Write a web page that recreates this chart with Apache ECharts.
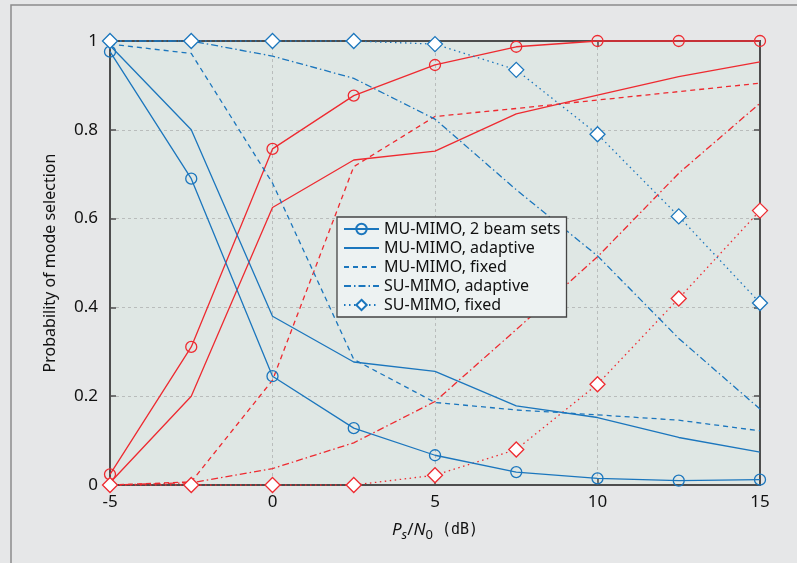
<!DOCTYPE html>
<html>
<head>
<meta charset="utf-8">
<script src="https://cdn.jsdelivr.net/npm/echarts@6/dist/echarts.min.js"></script>
<style>
  html, body { margin: 0; padding: 0; background: #e6e7e8; }
  #chart { width: 797px; height: 563px; }
</style>
</head>
<body>
<div id="chart"></div>
<script>
// x axis: Ps/N0 in dB
const snr = [-5, -2.5, 0, 2.5, 5, 7.5, 10, 12.5, 15]

// blue curves (falling)
const muBeamBlue = [0.976, 0.69, 0.245, 0.128, 0.067, 0.029, 0.015, 0.01, 0.012]
const muAdaptBlue = [0.99, 0.80, 0.38, 0.277, 0.256, 0.178, 0.152, 0.107, 0.074]
const muFixedBlue = [0.993, 0.972, 0.68, 0.283, 0.186, 0.169, 0.158, 0.146, 0.122]
const suAdaptBlue = [1.0, 1.0, 0.966, 0.916, 0.824, 0.665, 0.516, 0.33, 0.171]
const suFixedBlue = [1.0, 1.0, 1.0, 1.0, 0.993, 0.935, 0.79, 0.605, 0.41]

// red curves (rising)
const muBeamRed = [0.024, 0.311, 0.757, 0.877, 0.946, 0.987, 1.0, 1.0, 1.0]
const muAdaptRed = [0.005, 0.2, 0.625, 0.732, 0.752, 0.836, 0.878, 0.92, 0.953]
const muFixedRed = [0.0, 0.007, 0.236, 0.717, 0.83, 0.848, 0.867, 0.886, 0.905]
const suAdaptRed = [0.0, 0.005, 0.037, 0.095, 0.188, 0.35, 0.514, 0.702, 0.86]
const suFixedRed = [0.0, 0.0, 0.0, 0.0, 0.022, 0.08, 0.227, 0.42, 0.618]

const legendNames = ['MU-MIMO, 2 beam sets', 'MU-MIMO, adaptive', 'MU-MIMO, fixed', 'SU-MIMO, adaptive', 'SU-MIMO, fixed']
const legendHasMarker = [true, false, false, false, true]

const BLUE = '#1b76bd'
const RED = '#ee2a30'
const FONT = 'Noto Sans'
const AXIS_COLOR = '#4d4d4d'

const pairs = (ys) => snr.map((x, i) => [x, ys[i]])

// 线型
const DASH = [5, 4]
const DASHDOT = [7, 3, 1.5, 3]
const DOT = [1.5, 3.5]

function makeSeries(name, ys, color, dash, marker, z) {
  const s = {
    name: name,
    type: 'line',
    data: pairs(ys),
    clip: false,
    z: z,
    color: color,
    lineStyle: { color: color, width: 1.3, type: dash },
    symbol: 'none',
    animation: false
  }
  if (marker === 'circle') {
    s.symbol = 'circle'
    s.symbolSize = 11
    s.itemStyle = { color: 'rgba(0,0,0,0)', borderColor: color, borderWidth: 1.3 }
  } else if (marker === 'diamond') {
    s.symbol = 'diamond'
    s.symbolSize = 15
    s.itemStyle = { color: '#ffffff', borderColor: color, borderWidth: 1.3 }
  }
  return s
}

// axis helper (ticks inside)
function frameAxis(extra) {
  return Object.assign({
    type: 'value',
    axisLine: { show: false, onZero: false },
    axisTick: { inside: true, length: 6, lineStyle: { color: AXIS_COLOR, width: 1.5 } },
    axisLabel: { show: false },
    splitLine: { show: false }
  }, extra)
}

const gridLine = { show: true, showMinLine: false, showMaxLine: false, lineStyle: { color: '#b9bdbc', type: [3, 3], width: 1 } }

const chart = echarts.init(document.getElementById('chart'))

const option = {
  backgroundColor: '#e6e7e8',
  animation: false,
  graphic: [
    { id: 'outer', type: 'rect', shape: { x: 11, y: 5, width: 900, height: 700 }, style: { fill: 'none', stroke: '#8c8c8c', lineWidth: 1.5 }, z: -10 }
  ],
  grid: {
    left: 110, right: 37, top: 41, bottom: 78,
    show: true, backgroundColor: '#dfe7e4', borderWidth: 0
  },
  legend: {
    data: legendNames.map((n, i) => legendHasMarker[i] ? { name: n } : { name: n, itemStyle: { opacity: 0 } }),
    orient: 'vertical',
    left: 337, top: 217,
    z: 30,
    padding: [4, 6, 4, 6],
    itemWidth: 35, itemHeight: 13, itemGap: 3,
    backgroundColor: '#edf2f2',
    borderColor: '#444', borderWidth: 1.3,
    textStyle: { fontFamily: FONT, fontSize: 16, color: '#111' },
    selectedMode: false
  },
  xAxis: [
    frameAxis({
      min: -5, max: 15, interval: 5,
      name: '{it|P}{sbi|s}{n|/}{it|N}{sb|0}{mono| (dB)}',
      nameLocation: 'middle', nameGap: 33,
      nameTextStyle: {
        fontFamily: FONT, fontSize: 17, color: '#111',
        rich: {
          it: { fontFamily: FONT, fontStyle: 'italic', fontSize: 17, lineHeight: 24, color: '#111' },
          n: { fontFamily: FONT, fontSize: 17, lineHeight: 24, color: '#111' },
          sbi: { fontFamily: FONT, fontStyle: 'italic', fontSize: 13, lineHeight: 14, verticalAlign: 'bottom', color: '#111' },
          sb: { fontFamily: FONT, fontSize: 13, lineHeight: 14, verticalAlign: 'bottom', color: '#111' },
          mono: { fontFamily: 'DejaVu Sans Mono', fontSize: 15, lineHeight: 24, color: '#111' }
        }
      },
      axisLabel: { show: true, fontFamily: FONT, fontSize: 17, color: '#111', margin: 9 },
      splitLine: gridLine
    }),
    frameAxis({ min: -5, max: 15, interval: 5, position: 'top' })
  ],
  yAxis: [
    frameAxis({
      min: 0, max: 1, interval: 0.2,
      name: 'Probability of mode selection',
      nameLocation: 'middle', nameGap: 52,
      nameTextStyle: { fontFamily: FONT, fontSize: 16, color: '#111' },
      axisLabel: { show: true, fontFamily: FONT, fontSize: 17, color: '#111', margin: 12 },
      splitLine: gridLine
    }),
    frameAxis({ min: 0, max: 1, interval: 0.2, position: 'right' })
  ],
  series: [
    makeSeries(legendNames[0], muBeamBlue, BLUE, 'solid', 'circle', 21),
    makeSeries(legendNames[1], muAdaptBlue, BLUE, 'solid', null, 21),
    makeSeries(legendNames[2], muFixedBlue, BLUE, DASH, null, 21),
    makeSeries(legendNames[3], suAdaptBlue, BLUE, DASHDOT, null, 21),
    makeSeries(legendNames[4], suFixedBlue, BLUE, DOT, 'diamond', 21),
    makeSeries(legendNames[0], muBeamRed, RED, 'solid', 'circle', 20),
    makeSeries(legendNames[1], muAdaptRed, RED, 'solid', null, 20),
    makeSeries(legendNames[2], muFixedRed, RED, DASH, null, 20),
    makeSeries(legendNames[3], suAdaptRed, RED, DASHDOT, null, 20),
    makeSeries(legendNames[4], suFixedRed, RED, DOT, 'diamond', 20)
  ]
}

chart.setOption(option)

// 画坐标框 (plot frame) from the axis scales, above the grid lines
const p0 = chart.convertToPixel({ gridIndex: 0 }, [-5, 0])
const p1 = chart.convertToPixel({ gridIndex: 0 }, [15, 1])
chart.setOption({
  graphic: [{
    id: 'frame', type: 'rect', z: 10, silent: true,
    shape: { x: Math.round(p0[0]), y: Math.round(p1[1]), width: Math.round(p1[0] - p0[0]), height: Math.round(p0[1] - p1[1]) },
    style: { fill: 'none', stroke: AXIS_COLOR, lineWidth: 2 }
  }]
})
</script>
</body>
</html>
